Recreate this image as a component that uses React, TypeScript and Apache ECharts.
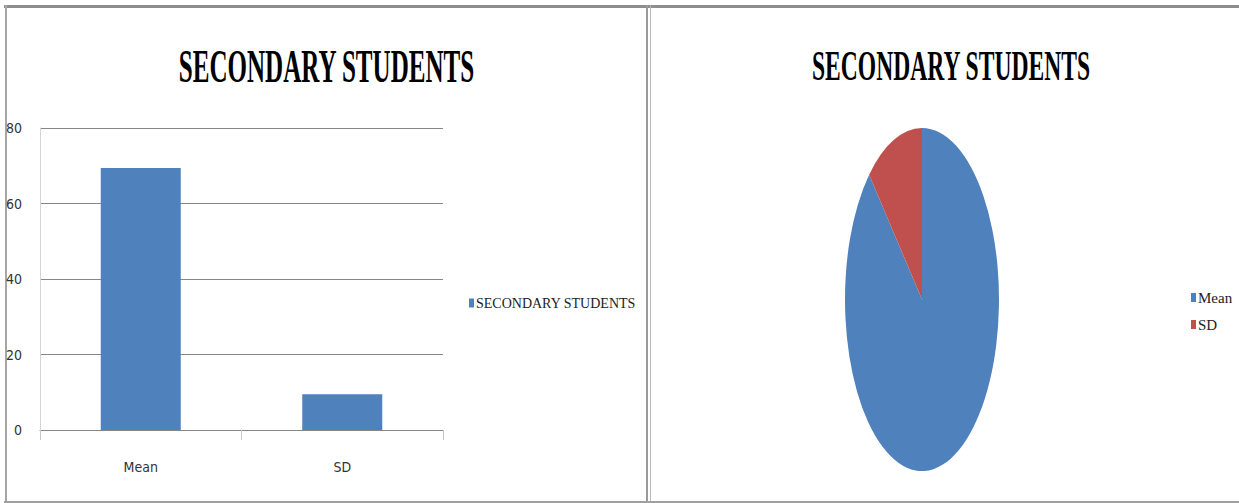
import React, { useEffect, useRef } from "react";
import * as echarts from "echarts";

// ---- data ----
const categories = ["Mean", "SD"];
const barValues = [69.4, 9.5];
const pieValues = [69.4, 9.5];
const barSeriesName = "SECONDARY STUDENTS";
const chartTitle = "SECONDARY STUDENTS";
const yMin = 0;
const yMax = 80;
const yInterval = 20;
const barColor = "#4F81BD";
const pieColors = ["#4F81BD", "#C0504D"];

export default function App() {
  const ref = useRef<HTMLDivElement>(null);

  useEffect(() => {
    if (!ref.current) return;
    const chart = echarts.init(ref.current, null, { renderer: "svg" });
    const total = pieValues.reduce((a, b) => a + b, 0);

    // elliptical pie geometry
    const pcx = 922;
    const pcy = 299.5;
    const pry = 171.5;
    const prx = 77;

    const pieSeries = categories.map((name, i) => {
      const before = pieValues.slice(0, i).reduce((a, b) => a + b, 0);
      return {
        type: "custom",
        name,
        coordinateSystem: "none",
        data: [[pieValues[i]]],
        itemStyle: { color: pieColors[i] },
        renderItem: (_params: any, api: any) => {
          const v = api.value(0) as number;
          const start = -Math.PI / 2 + (before / total) * 2 * Math.PI;
          const end = start + (v / total) * 2 * Math.PI;
          return {
            type: "sector",
            x: pcx,
            y: pcy,
            scaleX: prx / pry,
            shape: { cx: 0, cy: 0, r: pry, r0: 0, startAngle: start, endAngle: end, clockwise: true },
            style: { fill: api.visual("color") },
          };
        },
      };
    });

    const axisFont = "'Liberation Sans Narrow', 'DejaVu Sans Condensed', 'Liberation Sans', sans-serif";
    const serif = "'Liberation Serif', 'DejaVu Serif', serif";

    chart.setOption({
      animation: false,
      backgroundColor: "#ffffff",
      legend: [
        {
          data: [barSeriesName],
          orient: "vertical",
          left: 464,
          top: 291,
          icon: "rect",
          itemWidth: 5,
          itemHeight: 9,
          itemGap: 4,
          textStyle: { fontFamily: serif, fontSize: 14, color: "#222", padding: [0, 0, 0, -3] },
          selectedMode: false,
        },
        {
          data: categories,
          orient: "vertical",
          left: 1186,
          top: 285,
          icon: "rect",
          itemWidth: 5,
          itemHeight: 9,
          itemGap: 12,
          textStyle: { fontFamily: serif, fontSize: 15, color: "#222", padding: [0, 0, 0, -3] },
          selectedMode: false,
        },
      ],
      grid: [{ left: 40, top: 128, width: 403, height: 302, containLabel: false }],
      xAxis: [
        {
          type: "category",
          gridIndex: 0,
          data: categories,
          axisLine: { lineStyle: { color: "#868686", width: 1 } },
          axisTick: { show: true, length: 10, alignWithLabel: false, lineStyle: { color: "#c8c8c8" } },
          axisLabel: { margin: 30, fontFamily: axisFont, fontSize: 14, color: "#333" },
        },
      ],
      yAxis: [
        {
          type: "value",
          gridIndex: 0,
          min: yMin,
          max: yMax,
          interval: yInterval,
          axisLine: { show: true, lineStyle: { color: "#d4d4d4" } },
          axisTick: { show: false },
          splitLine: { lineStyle: { color: "#868686", width: 1 } },
          axisLabel: { margin: 18, fontFamily: axisFont, fontSize: 14, color: "#333" },
        },
      ],
      series: [
        {
          type: "bar",
          name: barSeriesName,
          xAxisIndex: 0,
          yAxisIndex: 0,
          data: barValues,
          barWidth: 80,
          itemStyle: { color: barColor },
        },
        ...pieSeries,
      ],
      graphic: [
        // panel borders
        { type: "line", shape: { x1: 4, y1: 6.5, x2: 1239, y2: 6.5 }, style: { stroke: "#8e8e8e", lineWidth: 3 } },
        { type: "line", shape: { x1: 6, y1: 5, x2: 6, y2: 503 }, style: { stroke: "#a6a6a6", lineWidth: 2 } },
        { type: "line", shape: { x1: 647, y1: 5, x2: 647, y2: 503 }, style: { stroke: "#9a9a9a", lineWidth: 2 } },
        { type: "line", shape: { x1: 650.5, y1: 5, x2: 650.5, y2: 503 }, style: { stroke: "#b8b8b8", lineWidth: 1 } },
        { type: "line", shape: { x1: 4, y1: 502, x2: 1239, y2: 502 }, style: { stroke: "#a0a0a0", lineWidth: 2 } },
        // titles (condensed serif)
        {
          type: "text",
          x: 326.5,
          y: 66,
          scaleX: 0.545,
          style: {
            text: chartTitle,
            fontFamily: serif,
            fontWeight: "bold",
            fontSize: 46,
            fill: "#000",
            textAlign: "center",
            textVerticalAlign: "middle",
          },
        },
        {
          type: "text",
          x: 951,
          y: 66,
          scaleX: 0.562,
          style: {
            text: chartTitle,
            fontFamily: serif,
            fontWeight: "bold",
            fontSize: 42,
            fill: "#000",
            textAlign: "center",
            textVerticalAlign: "middle",
          },
        },
      ],
    });

    return () => chart.dispose();
  }, []);

  return (
    <div
      ref={ref}
      style={{ position: "fixed", left: 0, top: 0, width: 1239, height: 503, background: "#fff" }}
    />
  );
}
